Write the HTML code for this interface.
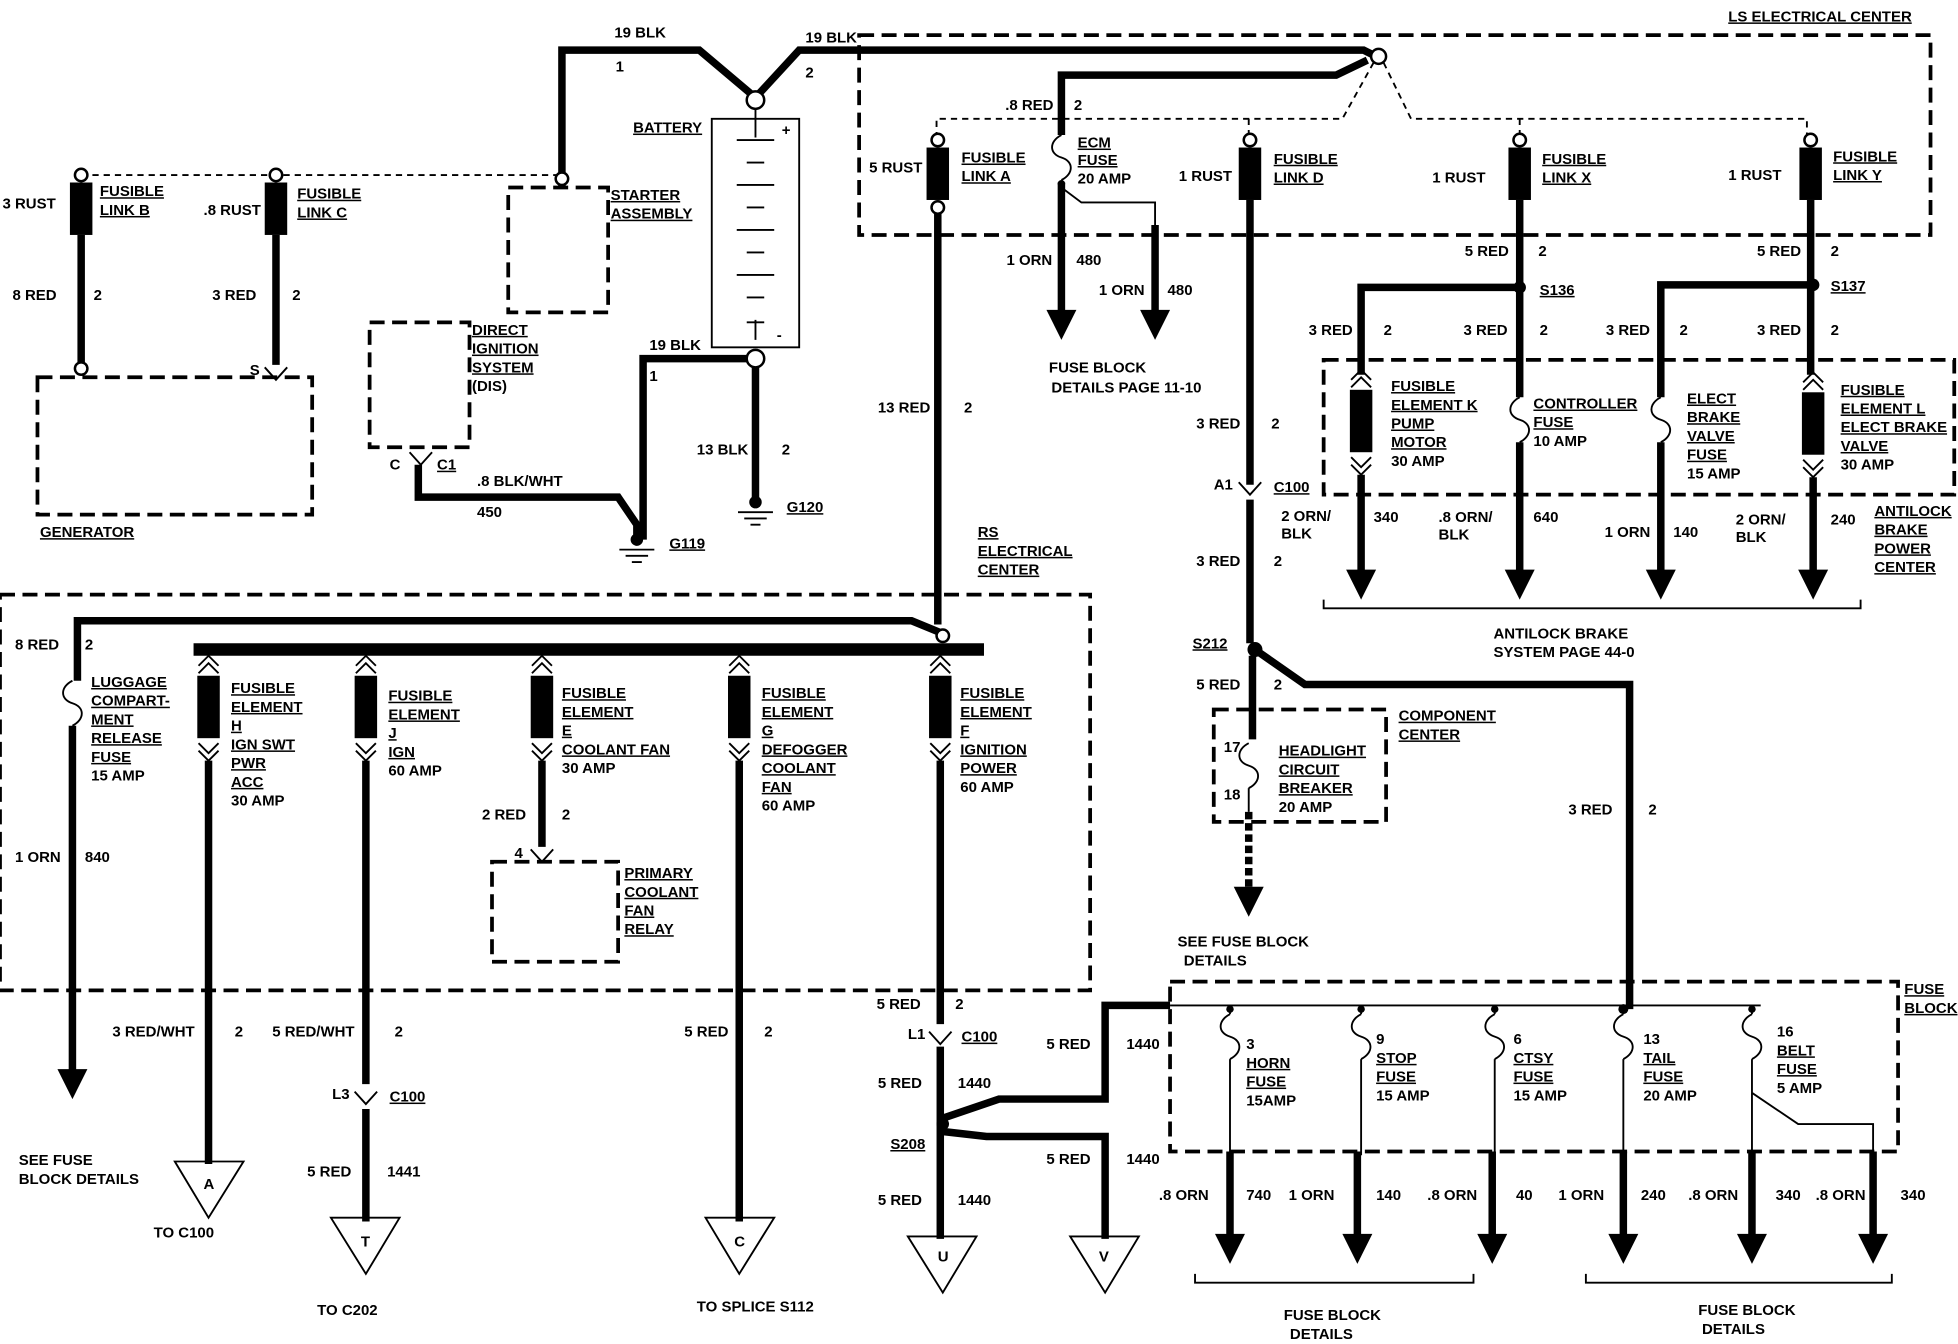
<!DOCTYPE html>
<html><head><meta charset="utf-8"><style>
html,body{margin:0;padding:0;background:#fff;}
svg{display:block}
text{font-family:"Liberation Sans",sans-serif;font-weight:bold;font-size:12px;fill:#000}
.u{text-decoration:underline}
.w{stroke:#000;stroke-width:6;fill:none;stroke-linejoin:miter}
.b{stroke:#000;stroke-width:10;fill:none}
.t{stroke:#000;stroke-width:1.5;fill:none}
.d{stroke:#000;stroke-width:3;fill:none;stroke-dasharray:12 6}
.td{stroke:#000;stroke-width:1.5;fill:none;stroke-dasharray:5 4}
.c{stroke:#000;stroke-width:2;fill:#fff}
</style></head><body>
<svg width="1958" height="1344" viewBox="0 0 1568 1076" xmlns="http://www.w3.org/2000/svg">
<defs>
<g id="fl"><rect x="-9" y="0" width="18" height="42" fill="#000"/><circle cx="0" cy="-6" r="5" class="c"/></g>
<g id="fe"><path d="M-8,8 L0,0 L8,8 M-8,14 L0,6 L8,14" class="t" stroke-width="3"/><rect x="-9" y="16" width="18" height="50" fill="#000"/><path d="M-8,70 L0,78 L8,70 M-8,76 L0,84 L8,76" class="t" stroke-width="3"/></g>
<g id="fu"><path d="M0,0 C-10,5 -10,15 0,18 C10,21 10,31 0,36" class="t" stroke-width="2"/></g>
<g id="ch"><path d="M-9,-6 L0,4 L9,-6" class="t" stroke-width="3"/></g>
<g id="ar"><path d="M-12,0 L12,0 L0,24 Z" fill="#000"/></g>
<g id="gnd"><path d="M-14,0 H14 M-9,5 H9 M-4,10 H4" class="t" stroke-width="2"/></g>
</defs>

<!-- LS electrical center -->
<rect x="688" y="28" width="858" height="160" class="d"/>
<text x="1384" y="17" class="u">LS ELECTRICAL CENTER</text>
<path d="M450,150 V40 H560 L605,78 L640,40 H1092 L1100,44" class="w"/>
<text x="492" y="30">19 BLK</text><text x="493" y="57">1</text>
<text x="645" y="34">19 BLK</text><text x="645" y="62">2</text>
<circle cx="605" cy="80" r="7" class="c" stroke-width="3"/>
<path d="M850,108 V60 H1070 L1095,48" class="w"/>
<circle cx="1104" cy="45" r="6" class="c"/>
<path d="M1100,50 L1075,95 H750 V112 M1000,95 V112 M1108,50 L1130,95 H1447 V112 M1217,95 V112" class="td"/>
<!-- link A -->
<use href="#fl" x="751" y="118"/><text x="696" y="138">5 RUST</text>
<text x="770" y="130" class="u">FUSIBLE</text><text x="770" y="145" class="u">LINK A</text>
<circle cx="751" cy="166" r="5" class="c"/>
<path d="M751,171 V500" class="w"/>
<text x="703" y="330">13 RED</text><text x="772" y="330">2</text>
<!-- ECM -->
<text x="805" y="88">.8 RED</text><text x="860" y="88">2</text>
<use href="#fu" x="850" y="108"/>
<text x="863" y="118" class="u">ECM</text><text x="863" y="132" class="u">FUSE</text><text x="863" y="147">20 AMP</text>
<circle cx="850" cy="147" r="3" fill="#000"/>
<path d="M850,150 L866,162 H925 V185" class="t" stroke-width="2"/>
<path d="M850,146 V250 M925,180 V250" class="w"/>
<use href="#ar" x="850" y="248"/><use href="#ar" x="925" y="248"/>
<text x="806" y="212">1 ORN</text><text x="862" y="212">480</text>
<text x="880" y="236">1 ORN</text><text x="935" y="236">480</text>
<text x="840" y="298">FUSE BLOCK</text><text x="842" y="314">DETAILS PAGE 11-10</text>
<!-- link D -->
<use href="#fl" x="1001" y="118"/><text x="944" y="145">1 RUST</text>
<text x="1020" y="131" class="u">FUSIBLE</text><text x="1020" y="146" class="u">LINK D</text>
<path d="M1001,160 V388 M1001,400 V515" class="w"/>
<text x="958" y="343">3 RED</text><text x="1018" y="343">2</text>
<use href="#ch" x="1001" y="392"/>
<text x="972" y="392">A1</text><text x="1020" y="394" class="u">C100</text>
<text x="1026" y="417">2 ORN/</text><text x="1026" y="431">BLK</text>
<text x="958" y="453">3 RED</text><text x="1020" y="453">2</text>
<circle cx="1005" cy="520" r="6" fill="#000"/>
<text x="955" y="519" class="u">S212</text>
<path d="M1005,520 L1045,548 H1305 V808" class="w"/>
<text x="958" y="552">5 RED</text><text x="1020" y="552">2</text>
<text x="1256" y="652">3 RED</text><text x="1320" y="652">2</text>
<path d="M1003,525 V592" class="w"/>
<rect x="972" y="568" width="138" height="90" class="d"/>
<use href="#fu" x="1000" y="595"/>
<text x="980" y="602">17</text><text x="980" y="640">18</text>
<path d="M1000,631 V650" class="t" stroke-width="2"/>
<text x="1024" y="605" class="u">HEADLIGHT</text><text x="1024" y="620" class="u">CIRCUIT</text><text x="1024" y="635" class="u">BREAKER</text><text x="1024" y="650">20 AMP</text>
<text x="1120" y="577" class="u">COMPONENT</text><text x="1120" y="592" class="u">CENTER</text>
<path d="M1000,650 V712" class="w" stroke-dasharray="6 3"/>
<use href="#ar" x="1000" y="710"/>
<text x="943" y="758">SEE FUSE BLOCK</text><text x="948" y="773">DETAILS</text>
<!-- link X/Y -->
<use href="#fl" x="1217" y="118"/><text x="1147" y="146">1 RUST</text>
<text x="1235" y="131" class="u">FUSIBLE</text><text x="1235" y="146" class="u">LINK X</text>
<use href="#fl" x="1450" y="118"/><text x="1384" y="144">1 RUST</text>
<text x="1468" y="129" class="u">FUSIBLE</text><text x="1468" y="144" class="u">LINK Y</text>
<path d="M1217,160 V318 M1450,160 V300" class="w"/>
<text x="1173" y="205">5 RED</text><text x="1232" y="205">2</text>
<text x="1407" y="205">5 RED</text><text x="1466" y="205">2</text>
<circle cx="1217" cy="230" r="5" fill="#000"/><circle cx="1452" cy="228" r="5" fill="#000"/>
<text x="1233" y="236" class="u">S136</text><text x="1466" y="233" class="u">S137</text>
<path d="M1217,230 H1090 V300 M1452,228 H1330 V318" class="w"/>
<text x="1048" y="268">3 RED</text><text x="1108" y="268">2</text>
<text x="1172" y="268">3 RED</text><text x="1233" y="268">2</text>
<text x="1286" y="268">3 RED</text><text x="1345" y="268">2</text>
<text x="1407" y="268">3 RED</text><text x="1466" y="268">2</text>
<rect x="1060" y="288" width="505" height="108" class="d"/>
<use href="#fe" x="1090" y="296"/>
<use href="#fe" x="1452" y="298"/>
<use href="#fu" x="1217" y="318"/><use href="#fu" x="1330" y="318"/>
<text x="1114" y="313" class="u">FUSIBLE</text><text x="1114" y="328" class="u">ELEMENT K</text><text x="1114" y="343" class="u">PUMP</text><text x="1114" y="358" class="u">MOTOR</text><text x="1114" y="373">30 AMP</text>
<text x="1228" y="327" class="u">CONTROLLER</text><text x="1228" y="342" class="u">FUSE</text><text x="1228" y="357">10 AMP</text>
<text x="1351" y="323" class="u">ELECT</text><text x="1351" y="338" class="u">BRAKE</text><text x="1351" y="353" class="u">VALVE</text><text x="1351" y="368" class="u">FUSE</text><text x="1351" y="383">15 AMP</text>
<text x="1474" y="316" class="u">FUSIBLE</text><text x="1474" y="331" class="u">ELEMENT L</text><text x="1474" y="346" class="u">ELECT BRAKE</text><text x="1474" y="361" class="u">VALVE</text><text x="1474" y="376">30 AMP</text>
<path d="M1217,354 V458 M1330,354 V458 M1090,380 V458 M1452,382 V458" class="w"/>
<use href="#ar" x="1090" y="456"/><use href="#ar" x="1217" y="456"/><use href="#ar" x="1330" y="456"/><use href="#ar" x="1452" y="456"/>
<text x="1100" y="418">340</text><text x="1152" y="418">.8 ORN/</text><text x="1152" y="432">BLK</text><text x="1228" y="418">640</text>
<text x="1285" y="430">1 ORN</text><text x="1340" y="430">140</text>
<text x="1390" y="420">2 ORN/</text><text x="1390" y="434">BLK</text><text x="1466" y="420">240</text>
<text x="1501" y="413" class="u">ANTILOCK</text><text x="1501" y="428" class="u">BRAKE</text><text x="1501" y="443" class="u">POWER</text><text x="1501" y="458" class="u">CENTER</text>
<path d="M1060,480 V487 H1490 V480" class="t"/>
<text x="1196" y="511">ANTILOCK BRAKE</text><text x="1196" y="526">SYSTEM PAGE 44-0</text>
<!-- left top -->
<path d="M65,140 H450" class="td"/>
<circle cx="450" cy="143" r="5" class="c"/>
<use href="#fl" x="65" y="146"/><use href="#fl" x="221" y="146"/>
<text x="2" y="167">3 RUST</text><text x="80" y="157" class="u">FUSIBLE</text><text x="80" y="172" class="u">LINK B</text>
<text x="163" y="172">.8 RUST</text><text x="238" y="159" class="u">FUSIBLE</text><text x="238" y="174" class="u">LINK C</text>
<path d="M65,188 V290 M221,188 V292" class="w"/>
<circle cx="65" cy="295" r="5" class="c"/>
<use href="#ch" x="221" y="300"/><text x="200" y="300">S</text>
<text x="10" y="240">8 RED</text><text x="75" y="240">2</text><text x="170" y="240">3 RED</text><text x="234" y="240">2</text>
<rect x="30" y="302" width="220" height="110" class="d"/>
<text x="32" y="430" class="u">GENERATOR</text>
<rect x="407" y="150" width="80" height="100" class="d"/>
<text x="489" y="160" class="u">STARTER</text><text x="489" y="175" class="u">ASSEMBLY</text>
<rect x="296" y="258" width="80" height="100" class="d"/>
<text x="378" y="268" class="u">DIRECT</text><text x="378" y="283" class="u">IGNITION</text><text x="378" y="298" class="u">SYSTEM</text><text x="378" y="313">(DIS)</text>
<use href="#ch" x="337" y="368"/><text x="312" y="376">C</text><text x="350" y="376" class="u">C1</text>
<path d="M335,372 V398 H495 L510,420 V432" class="w"/>
<text x="382" y="389">.8 BLK/WHT</text><text x="382" y="414">450</text>
<circle cx="510" cy="432" r="5" fill="#000"/><use href="#gnd" x="510" y="440"/><text x="536" y="439" class="u">G119</text>
<!-- battery -->
<text x="507" y="106" class="u">BATTERY</text>
<rect x="570" y="95" width="70" height="183" class="t" stroke-width="4"/>
<path d="M605,87 V110 M590,112 H620 M598,130 H612 M590,148 H620 M598,166 H612 M590,184 H620 M598,202 H612 M590,220 H620 M598,238 H612 M605,256 V272 M598,258 H612" class="t" stroke-width="2.5"/>
<text x="626" y="108">+</text><text x="622" y="272">-</text>
<circle cx="605" cy="287" r="7" class="c" stroke-width="3"/>
<path d="M598,287 H515 V432 M605,294 V398" class="w"/>
<text x="520" y="280">19 BLK</text><text x="520" y="305">1</text>
<text x="558" y="364">13 BLK</text><text x="626" y="364">2</text>
<circle cx="605" cy="402" r="5" fill="#000"/><use href="#gnd" x="605" y="410"/><text x="630" y="410" class="u">G120</text>
<!-- RS electrical center -->
<rect x="0" y="476" width="873" height="317" class="d"/>
<text x="783" y="430" class="u">RS</text><text x="783" y="445" class="u">ELECTRICAL</text><text x="783" y="460" class="u">CENTER</text>
<path d="M62,545 V497 H730 L752,506" class="w"/>
<circle cx="755" cy="509" r="5" class="c"/>
<path d="M155,520 H788" class="b"/>
<text x="12" y="520">8 RED</text><text x="68" y="520">2</text>
<use href="#fu" x="58" y="545"/>
<text x="73" y="550" class="u">LUGGAGE</text><text x="73" y="565" class="u">COMPART-</text><text x="73" y="580" class="u">MENT</text><text x="73" y="595" class="u">RELEASE</text><text x="73" y="610" class="u">FUSE</text><text x="73" y="625">15 AMP</text>
<path d="M58,581 V858" class="w"/>
<use href="#ar" x="58" y="856"/>
<text x="12" y="690">1 ORN</text><text x="68" y="690">840</text>
<text x="15" y="933">SEE FUSE</text><text x="15" y="948">BLOCK DETAILS</text>
<use href="#fe" x="167" y="525"/><use href="#fe" x="293" y="525"/><use href="#fe" x="434" y="525"/><use href="#fe" x="592" y="525"/><use href="#fe" x="753" y="525"/>
<text x="185" y="555" class="u">FUSIBLE</text><text x="185" y="570" class="u">ELEMENT</text><text x="185" y="585" class="u">H</text><text x="185" y="600" class="u">IGN SWT</text><text x="185" y="615" class="u">PWR</text><text x="185" y="630" class="u">ACC</text><text x="185" y="645">30 AMP</text>
<text x="311" y="561" class="u">FUSIBLE</text><text x="311" y="576" class="u">ELEMENT</text><text x="311" y="591" class="u">J</text><text x="311" y="606" class="u">IGN</text><text x="311" y="621">60 AMP</text>
<text x="450" y="559" class="u">FUSIBLE</text><text x="450" y="574" class="u">ELEMENT</text><text x="450" y="589" class="u">E</text><text x="450" y="604" class="u">COOLANT  FAN</text><text x="450" y="619">30 AMP</text>
<text x="610" y="559" class="u">FUSIBLE</text><text x="610" y="574" class="u">ELEMENT</text><text x="610" y="589" class="u">G</text><text x="610" y="604" class="u">DEFOGGER</text><text x="610" y="619" class="u">COOLANT</text><text x="610" y="634" class="u">FAN</text><text x="610" y="649">60 AMP</text>
<text x="769" y="559" class="u">FUSIBLE</text><text x="769" y="574" class="u">ELEMENT</text><text x="769" y="589" class="u">F</text><text x="769" y="604" class="u">IGNITION</text><text x="769" y="619" class="u">POWER</text><text x="769" y="634">60 AMP</text>
<path d="M167,609 V932 M293,609 V868 M293,888 V978 M434,609 V678 M592,609 V978 M753,609 V820 M753,838 V992" class="w"/>
<text x="386" y="656">2 RED</text><text x="450" y="656">2</text>
<use href="#ch" x="434" y="686"/><text x="412" y="687">4</text>
<rect x="394" y="690" width="101" height="80" class="d"/>
<text x="500" y="703" class="u">PRIMARY</text><text x="500" y="718" class="u">COOLANT</text><text x="500" y="733" class="u">FAN</text><text x="500" y="748" class="u">RELAY</text>
<text x="90" y="830">3 RED/WHT</text><text x="188" y="830">2</text>
<text x="218" y="830">5 RED/WHT</text><text x="316" y="830">2</text>
<text x="548" y="830">5 RED</text><text x="612" y="830">2</text>
<text x="702" y="808">5 RED</text><text x="765" y="808">2</text>
<use href="#ch" x="293" y="880"/><text x="266" y="880">L3</text><text x="312" y="882" class="u">C100</text>
<text x="246" y="942">5 RED</text><text x="310" y="942">1441</text>
<use href="#ch" x="753" y="832"/><text x="727" y="832">L1</text><text x="770" y="834" class="u">C100</text>
<text x="703" y="871">5 RED</text><text x="767" y="871">1440</text>
<path d="M753,896 L800,880 H885 V805 H937" class="w"/>
<text x="838" y="840">5 RED</text><text x="902" y="840">1440</text>
<circle cx="755" cy="900" r="5" fill="#000"/><text x="713" y="920" class="u">S208</text>
<path d="M755,906 L790,910 H885 V992" class="w"/>
<text x="838" y="932">5 RED</text><text x="902" y="932">1440</text>
<text x="703" y="965">5 RED</text><text x="767" y="965">1440</text>
<g class="t" stroke-width="2" fill="#fff">
<path d="M140,930 H195 L167,975 Z"/><path d="M265,975 H320 L293,1020 Z"/><path d="M565,975 H620 L592,1020 Z"/><path d="M727,990 H782 L755,1035 Z"/><path d="M857,990 H912 L885,1035 Z"/>
</g>
<text x="163" y="952">A</text><text x="289" y="998">T</text><text x="588" y="998">C</text><text x="751" y="1010">U</text><text x="880" y="1010">V</text>
<text x="123" y="991">TO C100</text><text x="254" y="1053">TO C202</text><text x="558" y="1050">TO SPLICE S112</text>
<!-- fuse block -->
<rect x="937" y="786" width="583" height="136" class="d"/>
<text x="1525" y="796" class="u">FUSE</text><text x="1525" y="811" class="u">BLOCK</text>
<path d="M937,805 H1410" class="t" stroke-width="2"/>
<g><path d="M985,805 V812 M1090,805 V812 M1197,805 V812 M1300,805 V812 M1403,805 V812" class="t" stroke-width="2"/>
<circle cx="985" cy="808" r="3" fill="#000"/><circle cx="1090" cy="808" r="3" fill="#000"/><circle cx="1197" cy="808" r="3" fill="#000"/><circle cx="1300" cy="808" r="4" fill="#000"/><circle cx="1403" cy="808" r="3" fill="#000"/></g>
<use href="#fu" x="985" y="812"/><use href="#fu" x="1090" y="812"/><use href="#fu" x="1197" y="812"/><use href="#fu" x="1300" y="812"/><use href="#fu" x="1403" y="812"/>
<path d="M985,848 V925 M1090,848 V925 M1197,848 V925 M1300,848 V925 M1403,848 V925 M1403,875 L1440,900 H1500 V925" class="t" stroke-width="2"/>
<text x="998" y="840">3</text><text x="998" y="855" class="u">HORN</text><text x="998" y="870" class="u">FUSE</text><text x="998" y="885">15AMP</text>
<text x="1102" y="836">9</text><text x="1102" y="851" class="u">STOP</text><text x="1102" y="866" class="u">FUSE</text><text x="1102" y="881">15 AMP</text>
<text x="1212" y="836">6</text><text x="1212" y="851" class="u">CTSY</text><text x="1212" y="866" class="u">FUSE</text><text x="1212" y="881">15 AMP</text>
<text x="1316" y="836">13</text><text x="1316" y="851" class="u">TAIL</text><text x="1316" y="866" class="u">FUSE</text><text x="1316" y="881">20 AMP</text>
<text x="1423" y="830">16</text><text x="1423" y="845" class="u">BELT</text><text x="1423" y="860" class="u">FUSE</text><text x="1423" y="875">5 AMP</text>
<path d="M985,922 V990 M1087,922 V990 M1195,922 V990 M1300,922 V990 M1403,922 V990 M1500,922 V990" class="w"/>
<use href="#ar" x="985" y="988"/><use href="#ar" x="1087" y="988"/><use href="#ar" x="1195" y="988"/><use href="#ar" x="1300" y="988"/><use href="#ar" x="1403" y="988"/><use href="#ar" x="1500" y="988"/>
<text x="928" y="961">.8 ORN</text><text x="998" y="961">740</text>
<text x="1032" y="961">1 ORN</text><text x="1102" y="961">140</text>
<text x="1143" y="961">.8 ORN</text><text x="1214" y="961">40</text>
<text x="1248" y="961">1 ORN</text><text x="1314" y="961">240</text>
<text x="1352" y="961">.8 ORN</text><text x="1422" y="961">340</text>
<text x="1454" y="961">.8 ORN</text><text x="1522" y="961">340</text>
<path d="M957,1020 V1027 H1180 V1020 M1270,1020 V1027 H1515 V1020" class="t"/>
<text x="1028" y="1057">FUSE BLOCK</text><text x="1033" y="1072">DETAILS</text>
<text x="1360" y="1053">FUSE BLOCK</text><text x="1363" y="1068">DETAILS</text>
</svg>
</body></html>
